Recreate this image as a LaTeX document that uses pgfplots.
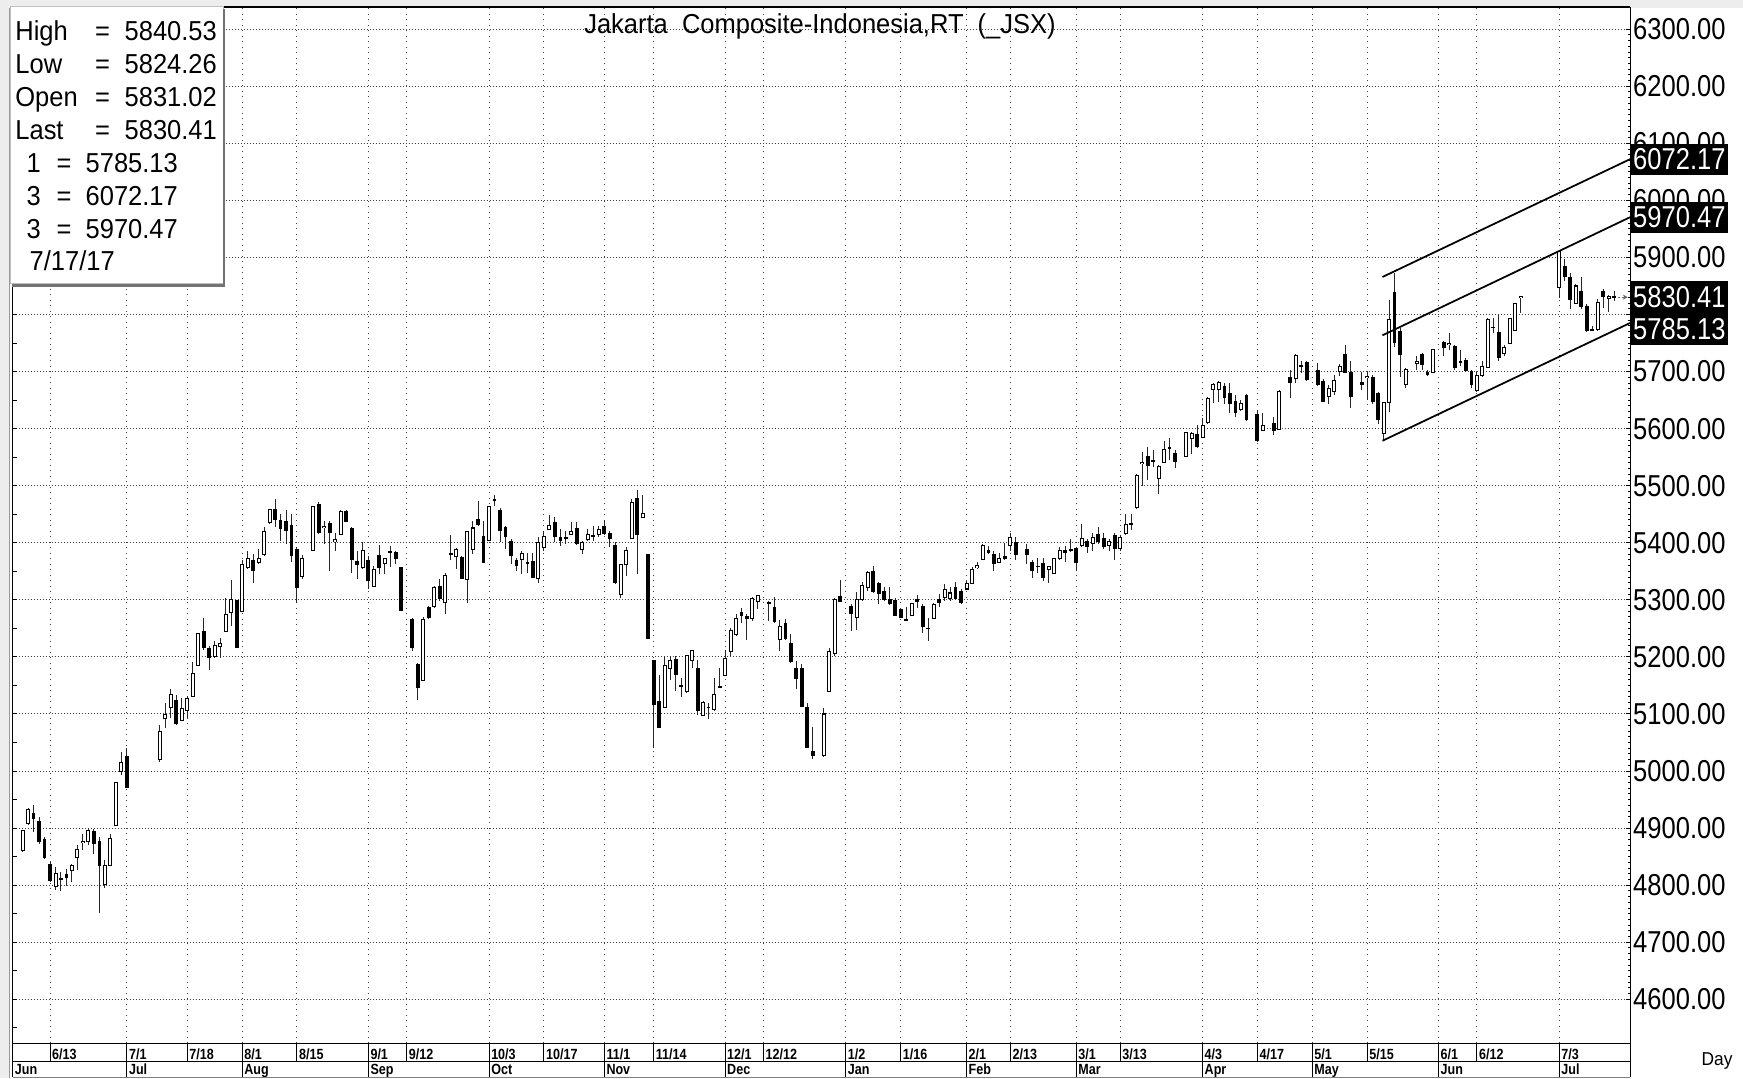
\documentclass[border=0pt]{standalone}
\usepackage{fontspec}
\usepackage{pgfplots}
\pgfplotsset{compat=1.18}
\usepackage{pgfplotstable}
\usetikzlibrary{arrows.meta}
\newfontfamily\boxfont[FakeStretch=0.93]{Liberation Sans}
\newfontfamily\axfont[FakeStretch=0.845]{Liberation Sans}
\newfontfamily\datefont[FakeStretch=0.85]{Liberation Sans}

\begin{document}
% weekday index (0 = 1 Jun 2016), open, high, low, close
\pgfplotstableread{
d o h l c
3 4861 4897 4858 4895
4 4908 4935 4905 4933
5 4927 4940 4893 4916
6 4913 4920 4873 4876
7 4881 4884 4846 4847
8 4837 4840 4805 4807
9 4798 4832 4791 4820
10 4813 4823 4789 4810
11 4819 4829 4799 4813
12 4825 4837 4805 4834
13 4849 4870 4826 4863
14 4874 4889 4861 4877
15 4876 4899 4870 4896
16 4895 4899 4855 4873
17 4877 4884 4752 4833
18 4802 4845 4795 4834
19 4834 4890 4833 4881
20 4905 4981 4904 4980
21 4999 5034 4994 5015
22 5027 5040 4970 4971
28 5021 5080 5016 5069
29 5092 5119 5075 5099
30 5112 5143 5093 5134
31 5125 5134 5081 5083
32 5089 5128 5089 5109
33 5107 5131 5093 5127
34 5131 5192 5129 5171
35 5185 5242 5184 5241
36 5245 5269 5213 5215
37 5216 5219 5178 5198
38 5200 5228 5198 5220
39 5218 5234 5198 5224
40 5245 5303 5244 5275
41 5278 5335 5254 5300
42 5300 5300 5215 5216
43 5279 5369 5278 5362
44 5356 5386 5354 5373
45 5369 5380 5330 5351
46 5366 5389 5363 5373
47 5380 5427 5377 5420
48 5435 5460 5433 5458
49 5460 5477 5427 5440
50 5440 5451 5404 5424
51 5438 5457 5398 5420
52 5432 5451 5366 5377
53 5390 5392 5295 5320
54 5341 5379 5336 5372
56 5387 5464 5386 5463
57 5468 5471 5416 5417
58 5427 5439 5398 5429
59 5434 5439 5351 5417
60 5402 5418 5386 5406
61 5414 5457 5413 5454
62 5455 5457 5436 5437
63 5426 5427 5348 5370
64 5369 5386 5336 5362
65 5356 5401 5354 5386
66 5369 5377 5319 5333
67 5323 5360 5322 5354
68 5379 5397 5346 5356
69 5364 5374 5345 5373
70 5383 5395 5357 5384
71 5384 5386 5363 5371
72 5357 5358 5280 5281
74 5266 5269 5210 5216
75 5188 5190 5125 5146
76 5159 5270 5157 5266
77 5288 5289 5266 5268
78 5289 5325 5286 5322
79 5325 5336 5298 5301
80 5295 5348 5275 5342
81 5382 5413 5369 5380
82 5376 5391 5354 5388
83 5376 5377 5336 5336.5
84 5336 5421 5295 5420
85 5389 5439 5381 5426
86 5442 5474 5430 5432
87 5412 5439 5364 5364.5
88 5404 5465 5403 5464
89 5476 5483 5465 5473
90 5458 5461 5401 5420
91 5427 5430 5389 5410
92 5404 5407 5363 5377
93 5370 5374 5351 5360
94 5371 5386 5345 5381
95 5366 5383 5348 5363
96 5369 5383 5338 5339
97 5337 5410 5330 5400
98 5391 5421 5386 5411
99 5423 5448 5423 5431
100 5436 5445 5401 5410
101 5410 5424 5395 5403
102 5410 5420 5398 5408
103 5415 5436 5413 5420
104 5426 5436 5397 5398
105 5388 5404 5381 5400
106 5406 5424 5404 5415
107 5414 5430 5404 5411
108 5414 5430 5410 5423
109 5430 5440 5414 5416
110 5417 5421 5392 5407
111 5397 5401 5328 5329
112 5310 5363 5303 5362
113 5362 5393 5342 5386
114 5408 5477 5407 5470
115 5478 5492 5345 5414
116 5444 5483 5443 5451
117 5380 5381 5231 5232
118 5194 5195 5040 5115
119 5122 5169 5075 5076
120 5112 5201 5111 5185
121 5180 5201 5160 5194
122 5197 5201 5140 5169
123 5150 5163 5129 5147
124 5139 5204 5137 5203
125 5193 5213 5181 5212
126 5180 5194 5099 5106
127 5098 5123 5096 5121
128 5113 5119 5092 5111
129 5108 5164 5106 5135
130 5147 5181 5146 5148
131 5168 5213 5166 5198
132 5209 5250 5201 5247
133 5240 5275 5237 5268
134 5279 5285 5260 5271
135 5272 5275 5229 5266
136 5268 5305 5263 5303
137 5298 5309 5284 5307
139 5296 5298 5263 5294
140 5288 5305 5260 5262
141 5230 5264 5210 5253
142 5260 5266 5229 5231
143 5224 5240 5190 5191
144 5180 5193 5143 5161
145 5180 5188 5112 5112.5
146 5113 5119 5040 5041
147 5035 5078 5021 5027
149 5027 5110 5025 5100
150 5140 5215 5139 5210
151 5206 5304 5201 5301
152 5307 5335 5296 5296.5
154 5289 5292 5246 5275
155 5269 5313 5248 5301
156 5301 5331 5298 5326
157 5322 5351 5316 5348
158 5350 5360 5312 5314
159 5330 5332 5292 5310
160 5316 5322 5298 5300
161 5302 5322 5291 5292
162 5300 5304 5271 5272
163 5284 5285 5268 5269
164 5266 5288 5264 5264.5
165 5273 5295 5272 5294
166 5301 5309 5285 5297
167 5290 5292 5242 5252
168 5251 5269 5228 5249
169 5268 5294 5266 5292
170 5302 5311 5288 5294
171 5305 5328 5298 5318
172 5303 5322 5298 5312
173 5322 5332 5299 5301
174 5316 5319 5292 5294
175 5319 5333 5317 5328
176 5328 5357 5327 5354
177 5356 5366 5354 5361
178 5370 5398 5369 5396
179 5388 5395 5380 5382
180 5380 5386 5350 5363
181 5366 5383 5364 5372
182 5377 5399 5370 5372
183 5396 5418 5386 5410
184 5402 5410 5370 5379
186 5390 5398 5363 5378
187 5367 5370 5339 5350
188 5360 5374 5348 5358
189 5365 5374 5333 5339
190 5354 5360 5330 5358
191 5346 5374 5345 5372
192 5372 5392 5370 5386
193 5388 5395 5367 5382
194 5389 5407 5384 5386
195 5391 5392 5350 5364
196 5395 5433 5393 5408
197 5403 5407 5383 5392
198 5399 5418 5386 5410
199 5416 5427 5398 5401
200 5408 5417 5389 5393
201 5395 5407 5386 5402
202 5414 5417 5370 5389
203 5390 5413 5386 5410
204 5416 5450 5414 5432
205 5434 5450 5423 5432
206 5461 5520 5460 5518
207 5539 5559 5499 5541
208 5552 5567 5510 5534
209 5545 5562 5533 5543
210 5512 5536 5486 5534
211 5541 5579 5539 5563
212 5568 5583 5545 5566
213 5558 5562 5532 5542
215 5552 5595 5551 5593
216 5583 5595 5556 5591
217 5590 5606 5567 5568
218 5584 5618 5583 5606
219 5611 5656 5609 5653
220 5668 5680 5645 5677
221 5668 5683 5647 5681
222 5675 5680 5644 5653
223 5663 5680 5627 5644
224 5649 5659 5621 5628
225 5633 5650 5631 5644
226 5659 5661 5614 5615
228 5625 5633 5577 5579
229 5597 5628 5596 5606
231 5610 5621 5589 5596
232 5599 5667 5599 5665
234 5691 5703 5653 5680
235 5688 5730 5680 5728
236 5709 5718 5697 5710
237 5716 5718 5684 5686
239 5703 5715 5674 5677
240 5683 5687 5646 5647
241 5657 5677 5643 5670
242 5666 5694 5659 5684
243 5700 5714 5692 5709
244 5731 5746 5697 5698
245 5699 5718 5636 5655
247 5681 5700 5668 5677
248 5690 5700 5650 5692
249 5691 5694 5644 5646
250 5662 5665 5608 5616
251 5592 5647 5580 5646
252 5646 5826 5630 5792
253 5839 5873 5744 5750
254 5771 5777 5691 5730
255 5678 5706 5671 5704
257 5715 5728 5703 5717
258 5730 5733 5703 5712
259 5700 5702 5693 5694
260 5698 5740 5697 5738
262 5751 5753 5727 5741
263 5747 5768 5738 5749
264 5745 5747 5703 5707
265 5718 5737 5709 5716
266 5721 5724 5700 5702
267 5701 5703 5671 5676
268 5667 5700 5665 5693
269 5693 5718 5691 5709
270 5708 5794 5706 5792
271 5777 5794 5768 5778
272 5769 5800 5718 5724
273 5732 5747 5728 5743
274 5750 5794 5749 5793
275 5772 5821 5771 5819
276 5830 5833 5803 5832
283 5847 5912 5829 5910
284 5886 5897 5859 5866
285 5866 5873 5809 5826
286 5819 5853 5818 5850
287 5841 5865 5809 5814
288 5815 5818 5769 5772
289 5775 5780 5771 5772
290 5774 5828 5772 5821
291 5841 5844 5812 5831
292 5829 5835 5804 5832
293 5831.02 5840.53 5824.26 5830.41
}\candles

\begin{tikzpicture}[x=0.1mm,y=0.1mm]
\useasboundingbox (0,0) rectangle (1743,1078);
\fill[white] (0,0) rectangle (1743,1078);
\fill[black!7] (0,1070) rectangle (1743,1078);
\fill[black!7] (0,0) rectangle (9,1078);
\draw[black!40, line width=0.1mm] (9.5,0) -- (9.5,1070);

\begin{axis}[
  at={(1.27mm,3.47mm)}, anchor=south west,
  scale only axis, width=161.73mm, height=103.58mm,
  xmin=1.2, xmax=295.9, ymin=4522.9, ymax=6338,
  clip=false,
  axis background/.style={fill=white},
  axis line style={line width=0.1mm, black},
  xtick={8,22,33,43,53,66,73,88,98,109,118,131,138,153,163,175,183,195,203,218,228,238,248,261,268,283},
  xticklabels={6/13,7/1,7/18,8/1,8/15,9/1,9/12,10/3,10/17,11/1,11/14,12/1,12/12,1/2,1/16,2/1,2/13,3/1,3/13,4/3,4/17,5/1,5/15,6/1,6/12,7/3},
  xtick style={draw=none},
  xticklabel style={anchor=base west, inner sep=0pt, xshift=0.15mm, yshift=-1.57mm,
    font=\datefont\bfseries\fontsize{4.2}{5}\selectfont},
  extra x ticks={1.2,22,43,66,88,109,131,153,175,195,218,238,261,283},
  extra x tick labels={Jun,Jul,Aug,Sep,Oct,Nov,Dec,Jan,Feb,Mar,Apr,May,Jun,Jul},
  extra x tick style={grid=none, major tick length=0pt, xticklabel style={yshift=-1.5mm}},
  ytick={4600,4700,...,6300},
  minor y tick num=9,
  ytick pos=right, yticklabel pos=right,
  tick align=inside,
  major tick length=0.45mm, minor tick length=0.25mm,
  ytick style={line width=0.1mm, black},
  yticklabel style={anchor=west, inner xsep=0.25mm, font=\axfont\fontsize{8.6}{9}\selectfont,
    /pgf/number format/.cd, fixed, fixed zerofill, precision=2, 1000 sep={}, assume math mode=true},
  grid=major,
  x grid style={black!75, line width=0.1mm, dash pattern=on 0.1mm off 0.45mm},
  y grid style={black!75, line width=0.1mm, dash pattern=on 0.1mm off 0.2mm},
]
% wicks
\addplot[forget plot, draw=none, mark=none,
  error bars/.cd, y dir=both, y explicit, error mark=none,
  error bar style={draw=black!85, solid, line width=0.1mm}]
  table[x=d, y expr={(\thisrow{h}+\thisrow{l})/2}, y error expr={(\thisrow{h}-\thisrow{l})/2}] {\candles};
% falling days: filled bodies
\addplot[forget plot, draw=none, mark=none,
  restrict expr to domain={\thisrow{c}-\thisrow{o}}{-100000:-0.001},
  error bars/.cd, y dir=both, y explicit, error mark=none,
  error bar style={draw=black, solid, line width=0.38mm}]
  table[x=d, y expr={(\thisrow{o}+\thisrow{c})/2}, y error expr={max((\thisrow{o}-\thisrow{c})/2,0.9)}] {\candles};
% rising days: hollow bodies (outline, then white inside)
\addplot[forget plot, draw=none, mark=none,
  restrict expr to domain={\thisrow{c}-\thisrow{o}}{0:100000},
  error bars/.cd, y dir=both, y explicit, error mark=none,
  error bar style={draw=black, solid, line width=0.4mm}]
  table[x=d, y expr={(\thisrow{o}+\thisrow{c})/2}, y error expr={(\thisrow{c}-\thisrow{o})/2+0.9}] {\candles};
\addplot[forget plot, draw=none, mark=none,
  restrict expr to domain={\thisrow{c}-\thisrow{o}}{0:100000},
  error bars/.cd, y dir=both, y explicit, error mark=none,
  error bar style={draw=white, solid, line width=0.2mm}]
  table[x=d, y expr={(\thisrow{o}+\thisrow{c})/2}, y error expr={max((\thisrow{c}-\thisrow{o})/2-0.9,0)}] {\candles};

% trend channel
\addplot[black, line width=0.5pt] coordinates {(250.8,5578.8) (295.9,5785.13)};
\addplot[black, line width=0.5pt] coordinates {(250.8,5763.6) (295.9,5970.47)};
\addplot[black, line width=0.5pt] coordinates {(250.8,5865.8) (295.9,6072.17)};
\addplot[black!60, line width=0.1mm, dash pattern=on 0.2mm off 0.2mm, -{Stealth[length=0.5mm,width=0.5mm]}]
  coordinates {(293.8,5830.41) (295.5,5830.41)};

% left axis ticks every 50
\pgfplotsinvokeforeach{4550,4600,...,6300}{\draw[line width=0.1mm] (axis cs:1.2,#1) -- ([xshift=0.4mm]axis cs:1.2,#1);}
% date rows
\pgfplotsinvokeforeach{8,22,33,43,53,66,73,88,98,109,118,131,138,153,163,175,183,195,203,218,228,238,248,261,268,283}{
  \draw[line width=0.1mm] (axis cs:#1,4522.9) -- ([yshift=-1.77mm]axis cs:#1,4522.9);}
\pgfplotsinvokeforeach{22,43,66,88,109,131,153,175,195,218,238,261,283}{
  \draw[line width=0.1mm] ([yshift=-1.77mm]axis cs:#1,4522.9) -- ([yshift=-3.4mm]axis cs:#1,4522.9);}
\draw[line width=0.1mm] ([yshift=-1.77mm]rel axis cs:0,0) -- ([yshift=-1.77mm]rel axis cs:1,0);
\draw[black!50, line width=0.1mm] ([yshift=-3.4mm]rel axis cs:0,0) -- ([yshift=-3.4mm]rel axis cs:1,0);
\draw[line width=0.1mm] (rel axis cs:1,0) -- ([yshift=-3.4mm]rel axis cs:1,0);
\draw[line width=0.1mm] (rel axis cs:0,0) -- ([yshift=-3.4mm]rel axis cs:0,0);

\coordinate (ra) at (axis cs:295.9,6072.17);
\coordinate (rb) at (axis cs:295.9,5970.47);
\coordinate (rc) at (axis cs:295.9,5830.41);
\coordinate (rd) at (axis cs:295.9,5785.13);
\end{axis}

\draw[line width=0.2mm] (12.7,1070.5) -- (1630,1070.5);

\begin{scope}[every node/.style={fill=black, text=white, anchor=west, inner xsep=0.25mm, inner ysep=0.5mm,
    font=\axfont\fontsize{8.6}{9}\selectfont}]
\node at (ra) {6072.17};
\node at (rb) {5970.47};
\node at (rc) {5830.41};
\node[yshift=-0.6mm] at (rd) {5785.13};
\end{scope}

\node[anchor=base, inner sep=0pt, font=\boxfont\fontsize{7.8}{9}\selectfont] at (820,1044)
  {Jakarta\ \ Composite-Indonesia,RT\ \ (\_JSX)};
\node[anchor=base, inner sep=0pt, font=\boxfont\fontsize{5.3}{6}\selectfont] at (1717,13) {Day};

% readout box
\draw[fill=white, draw=black!25, line width=0.1mm] (10,1071) rectangle (223,794);
\draw[black!55, line width=0.25mm] (224,1069) -- (224,792.5) -- (12,792.5);
\begin{scope}[every node/.style={inner sep=0pt, font=\boxfont\fontsize{7.8}{9}\selectfont}]
\node[anchor=base west] at (14.7,1037.3) {High};
\node[anchor=base west] at (14.7,1004.4) {Low};
\node[anchor=base west] at (14.7,971.5) {Open};
\node[anchor=base west] at (14.7,938.6) {Last};
\node[anchor=base] at (102.5,1037.3) {=};
\node[anchor=base] at (102.5,1004.4) {=};
\node[anchor=base] at (102.5,971.5) {=};
\node[anchor=base] at (102.5,938.6) {=};
\node[anchor=base west] at (124,1037.3) {5840.53};
\node[anchor=base west] at (124,1004.4) {5824.26};
\node[anchor=base west] at (124,971.5) {5831.02};
\node[anchor=base west] at (124,938.6) {5830.41};
\node[anchor=base west] at (26,905.7) {1};
\node[anchor=base west] at (26,872.8) {3};
\node[anchor=base west] at (26,839.9) {3};
\node[anchor=base] at (64,905.7) {=};
\node[anchor=base] at (64,872.8) {=};
\node[anchor=base] at (64,839.9) {=};
\node[anchor=base west] at (85,905.7) {5785.13};
\node[anchor=base west] at (85,872.8) {6072.17};
\node[anchor=base west] at (85,839.9) {5970.47};
\node[anchor=base west] at (29,807.0) {7/17/17};
\end{scope}
\end{tikzpicture}
\end{document}
